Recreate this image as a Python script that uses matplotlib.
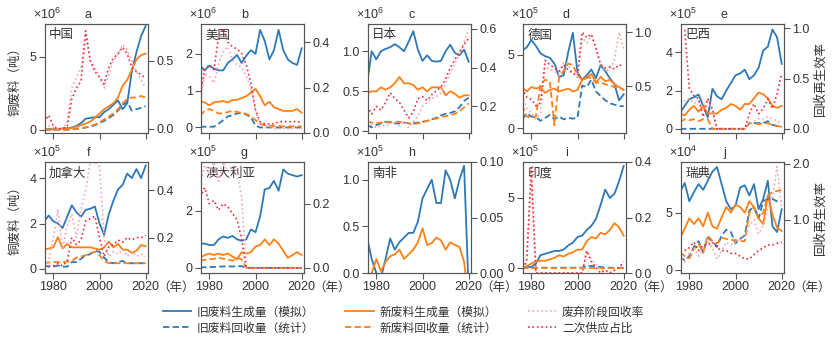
import numpy as np
import matplotlib
matplotlib.use("Agg")
import matplotlib.pyplot as plt
from matplotlib.lines import Line2D

plt.rcParams['font.family'] = ['Liberation Sans', 'Noto Sans CJK SC', 'DejaVu Sans']
plt.rcParams['mathtext.fontset'] = 'custom'
plt.rcParams['mathtext.rm'] = 'Liberation Sans'
plt.rcParams['axes.unicode_minus'] = False

YEARS = list(range(1976, 2021, 2))
NAN = float('nan')

# 中国 (x10^6 t)
cn_old_gen = [0.02, 0.02, 0.03, 0.05, 0.08, 0.1, 0.15, 0.25, 0.45, 0.75, 0.8, 0.85, 0.85, 1.2, 1.4, 1.7, 2.0, 1.4, 1.8, 4.0, 5.3, 6.4, 7.1]
cn_new_gen = [0.01, 0.01, 0.02, 0.03, 0.05, 0.08, 0.12, 0.2, 0.3, 0.4, 0.55, 0.8, 1.1, 1.4, 1.6, 1.8, 2.2, 3.0, 3.4, 4.1, 4.8, 5.1, 5.2]
cn_old_rec = [0, 0, 0, 0, 0, 0, 0, 0.05, 0.1, 0.15, 0.2, 0.3, 0.45, 0.6, 0.8, 1.0, 1.3, 1.7, 1.9, 1.3, 1.4, 1.5, 1.6]
cn_new_rec = [0, 0, 0, 0, 0, 0, 0.02, 0.05, 0.1, 0.15, 0.25, 0.35, 0.5, 0.7, 0.9, 1.1, 1.4, 1.8, 2.1, 2.2, 2.2, 2.3, 2.2]
cn_eol_rate = [0.01, 0.02, 0.01, 0.0, 0.0, 0.05, 0.3, 0.38, 0.45, 0.7, 0.5, 0.45, 0.38, 0.3, 0.4, 0.5, 0.55, 0.62, 0.58, 0.5, 0.42, 0.36, 0.3]
cn_sec_share = [0.05, 0.1, 0.02, 0.0, 0.0, 0.02, 0.22, 0.3, 0.35, 0.72, 0.5, 0.42, 0.38, 0.33, 0.45, 0.52, 0.55, 0.6, 0.55, 0.45, 0.42, 0.4, 0.37]

# 美国 (x10^6 t)
us_old_gen = [1.68, 1.55, 1.68, 1.6, 1.55, 1.55, 1.75, 1.85, 1.97, 1.75, 1.95, 2.1, 2.0, 2.65, 2.35, 1.85, 2.1, 2.65, 2.1, 1.85, 1.75, 1.7, 2.15]
us_new_gen = [0.72, 0.68, 0.6, 0.68, 0.7, 0.72, 0.68, 0.75, 0.75, 0.8, 0.85, 0.95, 1.05, 0.85, 0.6, 0.7, 0.55, 0.5, 0.45, 0.45, 0.45, 0.5, 0.4]
us_old_rec = [0.02, 0.02, 0.02, 0.02, 0.1, 0.2, 0.3, 0.33, 0.38, 0.4, 0.35, 0.28, 0.05, 0, 0, 0, 0, 0, 0, 0, 0, 0, 0]
us_new_rec = [0.32, 0.45, 0.5, 0.45, 0.38, 0.38, 0.42, 0.45, 0.42, 0.4, 0.37, 0.3, 0.2, 0.1, 0.06, 0.05, 0.04, 0.04, 0.03, 0.03, 0.03, 0.03, 0.03]
us_eol_rate = [0.13, 0.26, 0.25, 0.22, 0.3, 0.36, 0.38, 0.32, 0.3, 0.29, 0.25, 0.2, 0.1, 0.03, 0.03, 0.03, 0.02, 0.02, 0.02, 0.02, 0.02, 0.02, 0.02]
us_sec_share = [0.16, 0.28, 0.3, 0.28, 0.42, 0.46, 0.4, 0.38, 0.37, 0.35, 0.3, 0.22, 0.1, 0.05, 0.04, 0.04, 0.04, 0.05, 0.05, 0.05, 0.05, 0.05, 0.045]

# 日本 (x10^6 t)
jp_old_gen = [0.6, 1.0, 0.9, 1.0, 1.03, 1.05, 1.09, 1.05, 1.0, 1.12, 1.25, 1.02, 0.88, 0.95, 0.88, 0.87, 0.88, 1.0, 1.08, 0.98, 0.95, 1.02, 0.87]
jp_new_gen = [0.48, 0.5, 0.5, 0.55, 0.52, 0.55, 0.6, 0.68, 0.6, 0.6, 0.58, 0.52, 0.55, 0.5, 0.55, 0.55, 0.55, 0.45, 0.5, 0.47, 0.42, 0.45, 0.45]
jp_old_rec = [0.08, 0.05, 0.08, 0.1, 0.12, 0.11, 0.1, 0.1, 0.11, 0.1, 0.1, 0.11, 0.12, 0.13, 0.15, 0.17, 0.2, 0.22, 0.23, 0.25, 0.3, 0.38, 0.42]
jp_new_rec = [0.12, 0.11, 0.1, 0.11, 0.12, 0.12, 0.12, 0.12, 0.11, 0.1, 0.09, 0.1, 0.12, 0.13, 0.15, 0.16, 0.18, 0.19, 0.2, 0.22, 0.25, 0.3, 0.35]
jp_eol_rate = [0.12, 0.1, 0.09, 0.1, 0.1, 0.11, 0.12, 0.1, 0.12, 0.09, 0.12, 0.15, 0.2, 0.22, 0.24, 0.25, 0.27, 0.32, 0.37, 0.42, 0.47, 0.53, 0.6]
jp_sec_share = [0.2, 0.16, 0.2, 0.18, 0.22, 0.27, 0.24, 0.22, 0.18, 0.14, 0.17, 0.24, 0.25, 0.23, 0.26, 0.28, 0.3, 0.34, 0.4, 0.44, 0.48, 0.52, 0.55]

# 德国 (x10^5 t)
de_old_gen = [5.3, 5.5, 6.0, 5.6, 5.1, 4.9, 4.8, 4.4, 3.5, 3.6, 5.2, 6.5, 3.8, 3.3, 3.6, 4.0, 3.4, 4.3, 3.9, 3.4, 3.0, 1.9, 2.3]
de_new_gen = [2.8, 2.5, 2.8, 2.7, 2.8, 2.4, 2.6, 2.7, 2.5, 2.6, 2.7, 2.5, 2.6, 3.3, 3.4, 3.7, 3.1, 3.5, 3.2, 3.3, 3.0, 2.8, 2.6]
de_old_rec = [0.6, 1.0, 0.8, 0.75, 0.5, 0.7, 0.9, 0.6, 0.8, 0.6, 0.7, 0.65, 0.7, 2.9, 2.8, 3.3, 2.5, 2.2, 1.9, 1.7, 1.6, 1.5, 1.5]
de_new_rec = [1.6, 0.8, 0.7, 0.8, 3.0, 3.3, 3.2, 0.2, 3.4, 3.9, 4.4, 4.3, 3.6, 3.3, 3.5, 3.4, 3.1, 3.1, 3.0, 2.9, 2.8, 2.8, 2.6]
de_eol_rate = [0.42, 0.3, 0.25, 0.2, 0.25, 0.68, 0.66, 0.64, 0.6, 0.72, 0.7, 0.62, 0.58, 0.95, 0.9, 0.97, 0.85, 0.7, 0.65, 0.65, 0.75, 1.0, 0.85]
de_sec_share = [0.48, 0.4, 0.38, 0.32, 0.35, 0.74, 0.7, 0.67, 0.64, 0.7, 0.65, 0.62, 0.6, 1.0, 0.95, 0.98, 0.85, 0.7, 0.67, 0.68, 0.66, 0.7, 0.68]

# 巴西 (x10^5 t)
br_old_gen = [0.85, 1.2, 1.55, 1.65, 1.8, 1.2, 0.6, 2.1, 1.7, 1.55, 2.0, 2.4, 2.8, 2.9, 3.1, 2.6, 2.8, 3.2, 4.1, 4.3, 5.2, 4.8, 3.4]
br_new_gen = [0.8, 0.7, 1.0, 1.2, 0.9, 1.2, 0.8, 0.8, 0.8, 1.0, 1.1, 1.3, 1.2, 1.0, 1.3, 1.3, 1.6, 1.9, 1.8, 1.6, 1.2, 1.1, 1.2]
br_old_rec = [0, 0, 0, 0, 0, 0, 0, 0, 0, 0, 0, 0, 0, 0, 0, 0.3, 0.3, 0.3, 0.3, 0.4, 0.2, 0.15, 0.1]
br_new_rec = [0.35, 0.5, 0.45, 0.5, 0.4, 0.5, 0.5, 0, 0, 0, 0, 0, 0, 0, 0, 0.3, 0.28, 0.25, 0.28, 0.3, 0.2, 0.15, 0.1]
br_eol_rate = [0.25, 0.28, 0.3, 0.25, 0.28, 0.2, 0.3, 0.15, 0, 0, 0, 0, 0, 0, 0, 0.05, 0.08, 0.1, 0.1, 0.12, 0.1, 0.08, 0.05]
br_sec_share = [0.98, 0.98, 0.4, 0.33, 0.3, 0.12, 0.3, 0.2, 0, 0, 0, 0, 0, 0, 0, 0.15, 0.25, 0.15, 0.2, 0.3, 0.2, 0.35, 0.55]

# 加拿大 (x10^5 t)
ca_old_gen = [2.1, 2.35, 2.1, 2.0, 1.8, 2.3, 2.8, 2.5, 2.3, 2.6, 2.65, 2.75, 2.0, 1.5, 2.4, 3.0, 3.5, 3.7, 4.2, 4.0, 4.4, 4.0, 4.55]
ca_new_gen = [0.85, 0.9, 0.95, 1.4, 0.9, 1.1, 0.95, 0.95, 0.95, 0.95, 0.95, 0.9, 0.85, 0.95, 1.2, 0.95, 1.1, 0.85, 0.85, 0.7, 0.8, 1.05, 1.0]
ca_old_rec = [0.15, 0.1, 0.1, 0.15, 0.1, 0.1, 0.3, 0.3, 0.45, 0.6, 0.65, 0.8, 0.75, 0.5, 0.3, 0.25, 0.3, 0.35, 0.25, 0.25, 0.25, 0.25, 0.25]
ca_new_rec = [0.25, 0.28, 0.3, 0.3, 0.3, 0.32, 0.35, 0.5, 0.55, 0.6, 0.7, 0.75, 0.6, 0.35, 0.25, 0.25, 0.25, 0.25, 0.25, 0.25, 0.25, 0.25, 0.25]
ca_eol_rate = [0.08, 0.1, 0.2, 0.32, 0.15, 0.25, 0.3, 0.2, 0.32, 0.4, 0.52, 0.52, 0.5, 0.2, 0.12, 0.14, 0.13, 0.15, 0.12, 0.14, 0.12, 0.13, 0.12]
ca_sec_share = [0.08, 0.08, 0.08, 0.09, 0.08, 0.1, 0.2, 0.17, 0.19, 0.27, 0.28, 0.29, 0.2, 0.12, 0.16, 0.17, 0.19, 0.18, 0.2, 0.19, 0.2, 0.2, 0.21]

# 澳大利亚 (x10^5 t)
au_old_gen = [0.85, 0.85, 0.8, 0.8, 1.0, 1.1, 1.05, 1.12, 1.0, 0.95, 1.0, 1.35, 1.25, 1.8, 2.75, 2.8, 3.05, 2.7, 3.45, 3.3, 3.25, 3.2, 3.25]
au_new_gen = [0.35, 0.45, 0.5, 0.45, 0.5, 0.45, 0.5, 0.4, 0.3, 0.55, 0.5, 0.55, 0.75, 0.8, 1.0, 0.8, 1.0, 0.85, 0.6, 0.35, 0.45, 0.55, 0.45]
au_old_rec = [0.02, 0.02, 0.03, 0.03, 0.04, 0.05, 0.05, 0.05, 0.06, 0.06, 0, 0, 0, 0, 0, 0, 0, 0, 0, 0, 0, 0, 0]
au_new_rec = [0.25, 0.28, 0.3, 0.32, 0.35, 0.32, 0.3, 0.25, 0.35, 0.3, 0, 0, 0, 0, 0, 0, 0, 0, 0, 0, 0, 0, 0]
au_eol_rate = [0.26, 0.32, 0.3, 0.33, 0.27, 0.33, 0.3, 0.32, 0.3, 0.22, 0, 0, 0, 0, 0, 0, 0, 0, 0, 0, 0, 0, 0]
au_sec_share = [0.22, 0.25, 0.2, 0.21, 0.18, 0.2, 0.19, 0.17, 0.15, 0.09, 0, 0, 0, 0, 0, 0, 0, 0, 0, 0, 0, 0, 0]

# 南非 (x10^5 t)
za_old_gen = [0.38, 0.15, 0.0, -0.05, 0.15, 0.37, 0.25, 0.33, 0.38, 0.43, 0.43, 0.55, 0.8, 0.9, 1.0, 0.75, 0.75, 1.1, 1.0, 0.8, 1.0, 1.15, -0.2]
za_new_gen = [-0.1, 0.0, 0.15, 0.02, 0.12, 0.18, 0.2, 0.25, 0.15, 0.2, 0.25, 0.33, 0.48, 0.3, 0.32, 0.38, 0.35, 0.25, 0.33, 0.3, 0.28, 0.12, -0.3]
za_old_rec = [NAN] * 23
za_new_rec = [NAN] * 23
za_eol_rate = [NAN] * 23
za_sec_share = [NAN] * 23

# 印度 (x10^5 t)
in_old_gen = [0.05, 0.05, 0.05, 0.3, 0.9, 1.0, 1.1, 1.2, 1.2, 1.3, 1.6, 1.8, 2.2, 2.3, 2.7, 3.0, 3.5, 4.5, 5.6, 5.0, 5.3, 6.2, 7.3]
in_new_gen = [0.05, 0.1, 0.3, 0.45, 0.5, 0.5, 0.6, 0.7, 0.9, 0.8, 1.0, 1.1, 1.3, 1.3, 1.9, 2.2, 2.1, 2.5, 2.4, 2.7, 3.2, 2.9, 2.3]
in_old_rec = [0, 0, 0, 0, 0, 0, 0, 0, 0, 0, 0, 0, 0, 0, 0.15, 0.12, 0.1, 0.05, 0.02, 0, 0, 0, 0]
in_new_rec = [0, 0, 0, 0, 0, 0, 0, 0, 0, 0, 0, 0, 0, 0, 0, 0, 0, 0, 0, 0, 0, 0, 0]
in_eol_rate = [0, 0.04, 0.33, 0, 0, 0, 0, 0, 0, 0, 0, 0, 0, 0, 0.08, 0.05, 0.03, 0.01, 0.01, 0, 0.01, 0.02, 0.04]
in_sec_share = [0, 0.05, 0.38, 0, 0, 0, 0, 0, 0, 0, 0, 0, 0, 0, 0.08, 0.04, 0.02, 0, 0.01, 0, 0.01, 0.02, 0.04]

# 瑞典 (x10^4 t)
se_old_gen = [6.8, 7.6, 6.0, 6.8, 7.5, 7.0, 7.8, 8.6, 9.0, 7.5, 6.0, 5.3, 5.6, 7.2, 7.4, 6.5, 7.5, 5.3, 6.2, 7.8, 3.8, 3.3, 5.3]
se_new_gen = [2.7, 3.6, 4.5, 4.0, 4.5, 3.8, 5.0, 3.8, 3.6, 4.6, 5.5, 5.0, 5.7, 5.5, 5.0, 6.0, 5.5, 4.5, 4.0, 6.5, 4.8, 3.7, 3.4]
se_old_rec = [1.2, 0.8, 1.2, 2.0, 2.5, 1.5, 2.8, 2.5, 2.0, 3.0, 3.5, 3.3, 2.3, 2.7, 3.0, 5.2, 5.5, 4.5, 6.0, 6.2, 6.2, 6.0, 6.0]
se_new_rec = [1.5, 1.2, 1.0, 1.8, 2.3, 1.5, 3.0, 2.5, 2.3, 2.8, 2.7, 2.6, 2.6, 2.5, 2.5, 5.0, 5.5, 4.5, 5.0, 6.5, 6.8, 6.9, 7.0]
se_eol_rate = [0.4, 0.25, 0.4, 0.5, 0.35, 0.5, 0.65, 0.5, 0.3, 0.45, 0.6, 0.55, 0.6, 0.65, 0.7, 0.9, 1.0, 0.75, 0.9, 1.2, 1.4, 1.95, 1.2]
se_sec_share = [0.45, 0.45, 0.5, 0.6, 0.45, 0.55, 0.55, 0.6, 0.5, 0.45, 0.45, 0.4, 0.4, 0.35, 0.3, 0.3, 0.38, 0.45, 0.5, 0.55, 0.55, 0.58, 0.6]

panel_letters = ['a', 'b', 'c', 'd', 'e', 'f', 'g', 'h', 'i', 'j']
countries = ['中国', '美国', '日本', '德国', '巴西', '加拿大', '澳大利亚', '南非', '印度', '瑞典']
exponents = [6, 6, 6, 5, 5, 5, 5, 5, 5, 4]
left_ticks = [[0, 5], [0, 1, 2], [0.0, 0.5, 1.0], [0, 5], [0, 2, 4],
              [0, 2, 4], [0, 2], [0.0, 0.5, 1.0], [0, 5], [0, 5]]
left_fmt = ['%d', '%d', '%.1f', '%d', '%d', '%d', '%d', '%.1f', '%d', '%d']
right_ticks = [[0.0, 0.5], [0.0, 0.2, 0.4], [0.2, 0.4, 0.6], [0.5, 1.0], [0.0, 0.5, 1.0],
               [0.2, 0.4], [0.0, 0.2], [0.0, 0.05, 0.10], [0.0, 0.2, 0.4], [1.0, 2.0]]
right_fmt = ['%.1f', '%.1f', '%.1f', '%.1f', '%.1f', '%.1f', '%.1f', '%.2f', '%.1f', '%.1f']
left_lims = [(-0.23, 7.23), (-0.15, 2.81), (-0.02, 1.34), (-0.33, 7.1), (-0.22, 5.49),
             (-0.18, 4.71), (-0.18, 3.71), (0.0, 1.19), (-0.38, 7.58), (-0.29, 9.44)]
right_lims = [(-0.03, 0.77), (0.0, 0.48), (0.062, 0.625), (0.07, 1.075), (-0.04, 1.04),
              (0.05, 0.52), (-0.016, 0.33), (0.0, 0.1), (0.0, 0.4), (0.05, 2.03)]

series = [
    (cn_old_gen, cn_new_gen, cn_old_rec, cn_new_rec, cn_eol_rate, cn_sec_share),
    (us_old_gen, us_new_gen, us_old_rec, us_new_rec, us_eol_rate, us_sec_share),
    (jp_old_gen, jp_new_gen, jp_old_rec, jp_new_rec, jp_eol_rate, jp_sec_share),
    (de_old_gen, de_new_gen, de_old_rec, de_new_rec, de_eol_rate, de_sec_share),
    (br_old_gen, br_new_gen, br_old_rec, br_new_rec, br_eol_rate, br_sec_share),
    (ca_old_gen, ca_new_gen, ca_old_rec, ca_new_rec, ca_eol_rate, ca_sec_share),
    (au_old_gen, au_new_gen, au_old_rec, au_new_rec, au_eol_rate, au_sec_share),
    (za_old_gen, za_new_gen, za_old_rec, za_new_rec, za_eol_rate, za_sec_share),
    (in_old_gen, in_new_gen, in_old_rec, in_new_rec, in_eol_rate, in_sec_share),
    (se_old_gen, se_new_gen, se_old_rec, se_new_rec, se_eol_rate, se_sec_share),
]

BLUE = '#2e78b7'
ORANGE = '#ff8016'
PINK = '#f6a6b2'
RED = '#e8303a'
FRAME = '#555555'
TXT = '#333333'
DASH = (0, (3.5, 1.8))

W, H = 839, 342
fig = plt.figure(figsize=(W / 100, H / 100), dpi=100)

col_left = [45, 201, 368, 523, 681]
row_top = [24, 162]
row_h = [109, 111]
ax_w = 103

for i in range(10):
    r, c = divmod(i, 5)
    ax = fig.add_axes([col_left[c] / W, 1 - (row_top[r] + row_h[r]) / H, ax_w / W, row_h[r] / H])
    old_gen, new_gen, old_rec, new_rec, eol_rate, sec_share = series[i]
    ax.plot(YEARS, old_gen, color=BLUE, lw=1.3)
    ax.plot(YEARS, new_gen, color=ORANGE, lw=1.3)
    ax.plot(YEARS, old_rec, color=BLUE, lw=1.3, ls=DASH)
    ax.plot(YEARS, new_rec, color=ORANGE, lw=1.3, ls=DASH)
    ax.set_xlim(1976.4, 2021)
    ax.set_ylim(*left_lims[i])
    ax.set_xticks([1980, 2000, 2020])
    ax.set_yticks(left_ticks[i])
    ax.set_yticklabels([left_fmt[i] % v for v in left_ticks[i]])

    ax2 = ax.twinx()
    ax2.plot(YEARS, eol_rate, color=PINK, lw=1.2, ls=':')
    ax2.plot(YEARS, sec_share, color=RED, lw=1.2, ls=':')
    ax2.set_ylim(*right_lims[i])
    ax2.set_yticks(right_ticks[i])
    ax2.set_yticklabels([right_fmt[i] % v for v in right_ticks[i]])

    for a in (ax, ax2):
        a.tick_params(direction='out', length=4, width=0.8, colors=FRAME,
                      labelcolor=TXT, labelsize=9, pad=2)
        for s in a.spines.values():
            s.set_color(FRAME)
            s.set_linewidth(0.8)
    if r == 0:
        ax.tick_params(labelbottom=False)
    else:
        ax.annotate('（年）', xy=(1, 0), xycoords='axes fraction', xytext=(7, -6.5),
                    textcoords='offset points', ha='left', va='top', fontsize=9,
                    color=TXT)

    ax.text(0.04, 0.95, countries[i], transform=ax.transAxes, ha='left', va='top',
            fontsize=9, color=TXT)
    ax.text(0.42, 1.03, panel_letters[i], transform=ax.transAxes, ha='center',
            va='bottom', fontsize=9, color=TXT)
    ax.text(-0.12, 1.02, '×10$^{%d}$' % exponents[i], transform=ax.transAxes,
            ha='left', va='bottom', fontsize=9, color=TXT)

for y_top, h in zip(row_top, row_h):
    yc = 1 - (y_top + h / 2) / H
    fig.text(15 / W, yc, '铜废料（吨）', rotation=90, ha='center', va='center',
             fontsize=9, color=TXT)
    fig.text(820 / W, yc, '回收再生效率', rotation=90, ha='center', va='center',
             fontsize=9, color=TXT)

handles = [
    Line2D([], [], color=BLUE, lw=1.3),
    Line2D([], [], color=BLUE, lw=1.3, ls=DASH),
    Line2D([], [], color=ORANGE, lw=1.3),
    Line2D([], [], color=ORANGE, lw=1.3, ls=DASH),
    Line2D([], [], color=PINK, lw=1.2, ls=':'),
    Line2D([], [], color=RED, lw=1.2, ls=':'),
]
labels = ['旧废料生成量（模拟）', '旧废料回收量（统计）', '新废料生成量（模拟）',
          '新废料回收量（统计）', '废弃阶段回收率', '二次供应占比']
fig.legend(handles, labels, ncol=3, loc='center', bbox_to_anchor=(0.481, 0.063),
           frameon=False, fontsize=8.5, handlelength=2.4, columnspacing=2.6,
           labelspacing=0.35, handletextpad=0.5, labelcolor=TXT)

fig.savefig('out.png', dpi=100)
